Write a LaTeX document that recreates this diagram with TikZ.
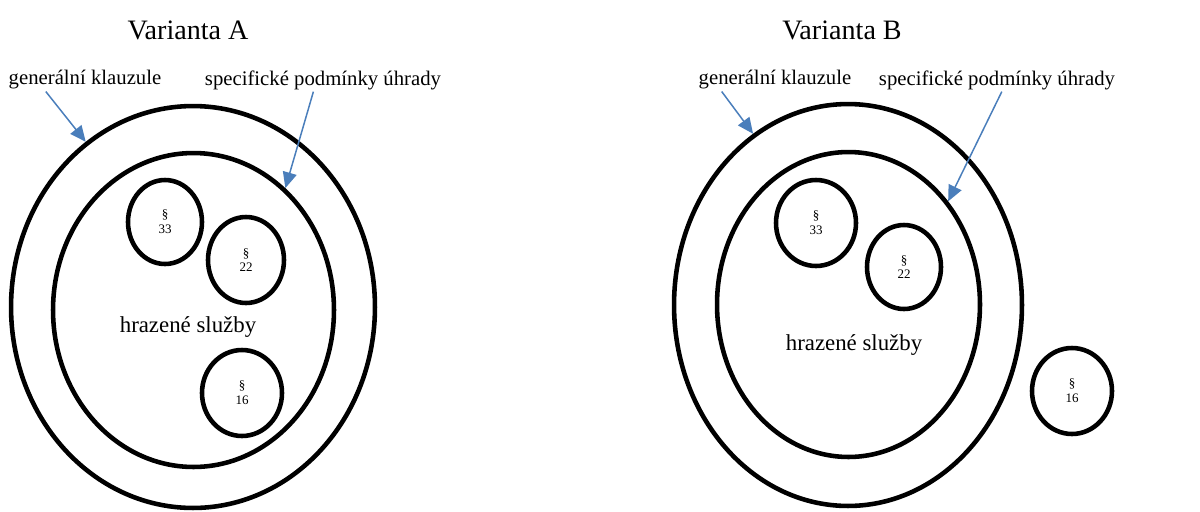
\documentclass[tikz,border=0pt]{standalone}
\usepackage{fontspec}
\setmainfont{Liberation Serif}
\usetikzlibrary{shapes.geometric, arrows.meta, positioning, calc}
\definecolor{pointer}{RGB}{74,126,187}

\begin{document}
\begin{tikzpicture}[
	x=0.02cm, y=-0.02cm,
	ring/.style={ellipse, draw=black, line width=2.6pt, inner sep=0pt},
	para/.style={ring, font=\fontsize{7.4}{8.4}\selectfont, align=center},
	heading/.style={font=\fontsize{16}{19}\selectfont},
	note/.style={font=\fontsize{11.8}{14}\selectfont, inner sep=1pt},
	core/.style={font=\fontsize{13}{15}\selectfont},
	arrow/.style={-{Triangle[length=9pt, width=8pt]}, draw=pointer, fill=pointer, line width=0.85pt}
]
\useasboundingbox (0,0) rectangle (1200,511);

% Varianta A
\node[heading] (titleA) at (188,30) {Varianta A};
\node[note] (genA) at (85,80) {generální klauzule};
\node[note] (specA) at (323,80) {specifické podmínky úhrady};
\node[ring, minimum width=7.28cm, minimum height=8.04cm] (outA) at (193,307) {};
\node[ring, minimum width=5.62cm, minimum height=6.28cm] (innA) at (193.5,310) {};
\node[para, minimum width=1.48cm, minimum height=1.68cm] (p33A) at (165,222) {§\\33};
\node[para, minimum width=1.52cm, minimum height=1.72cm] (p22A) at (246,260) {§\\22};
\node[para, minimum width=1.6cm, minimum height=1.72cm] (p16A) at (242,393) {§\\16};
\node[core] (servA) at (188,327) {hrazené služby};

% Arrows for Varianta A
\draw[arrow] ($(genA.south west)!0.25!(genA.south east)$) -- (outA.123);
\draw[arrow] ($(specA.south west)!0.46!(specA.south east)$) -- (innA.53);

% Varianta B
\node[heading] (titleB) at (842,30) {Varianta B};
\node[note] (genB) at (775,80) {generální klauzule};
\node[note] (specB) at (997,80) {specifické podmínky úhrady};
\node[ring, minimum width=6.96cm, minimum height=8.04cm] (outB) at (848,305) {};
\node[ring, minimum width=5.26cm, minimum height=6.10cm] (innB) at (848.5,304.5) {};
\node[para, minimum width=1.6cm, minimum height=1.72cm] (p33B) at (816,223) {§\\33};
\node[para, minimum width=1.48cm, minimum height=1.68cm] (p22B) at (904,267) {§\\22};
\node[para, minimum width=1.6cm, minimum height=1.72cm] (p16B) at (1072,391) {§\\16};
\node[core] (servB) at (854,345) {hrazené služby};

% Arrows for Varianta B
\draw[arrow] ($(genB.south west)!0.16!(genB.south east)$) -- (outB.119.5);
\draw[arrow] ($(specB.south west)!0.52!(specB.south east)$) -- (innB.46.7);

\end{tikzpicture}
\end{document}
